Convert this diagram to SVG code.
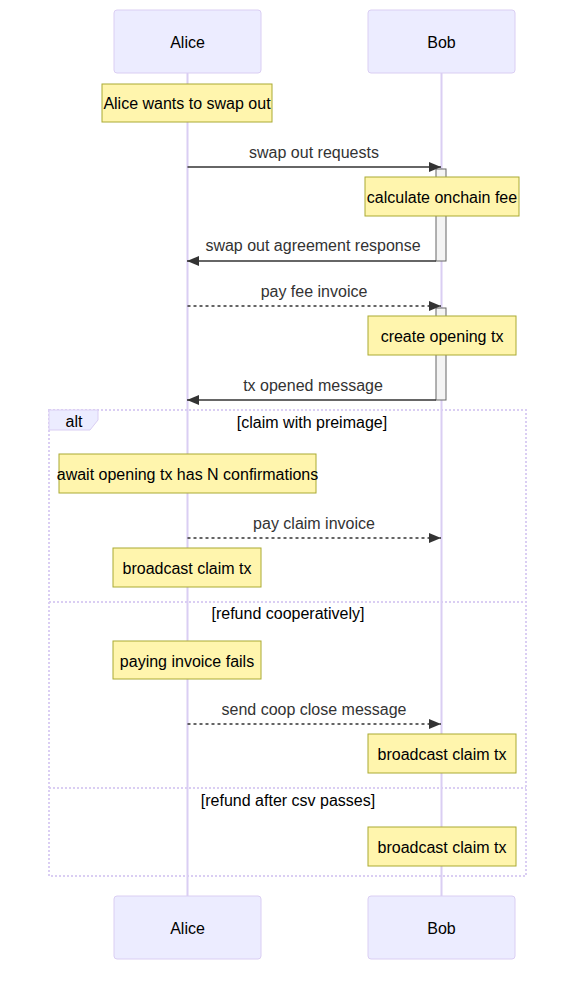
<svg xmlns="http://www.w3.org/2000/svg" width="583" height="984" viewBox="0 0 583 984">
<style>
.actor{fill:#ECECFF;stroke:#DACEF3;stroke-width:1}
.actorText{font-family:"Liberation Sans",Arial,sans-serif;font-size:16px;fill:#000;text-anchor:middle;dominant-baseline:central}
.life{stroke:#DACEF3;stroke-width:2}
.note{fill:#FFF5AD;stroke:#AAAA33;stroke-width:1}
.noteText{font-family:"Liberation Sans",Arial,sans-serif;font-size:16px;fill:#000;text-anchor:middle;dominant-baseline:central}
.msg{stroke:#333;stroke-width:1.5;fill:none}
.dotted{stroke-dasharray:3,3}
.msgText{font-family:"Liberation Sans",Arial,sans-serif;font-size:16px;fill:#333;text-anchor:middle;dominant-baseline:central}
.act{fill:#F4F4F4;stroke:#666;stroke-width:1}
.loop{fill:none;stroke:#DACEF3;stroke-width:2;stroke-dasharray:2,2}
.labelBox{fill:#ECECFF;stroke:#DACEF3;stroke-width:1}
.loopText{font-family:"Liberation Sans",Arial,sans-serif;font-size:16px;fill:#000;text-anchor:middle;dominant-baseline:central}
</style>
<defs>
<marker id="arrow" markerUnits="userSpaceOnUse" viewBox="0 0 12 10" markerWidth="12" markerHeight="10" refX="12" refY="5" orient="auto">
<path d="M0 0 L12 5 L0 10 z" fill="#333"/>
</marker>
</defs>
<rect width="583" height="984" fill="#fff"/>

<g id="lifelines">
<line class="life" x1="187.5" y1="73" x2="187.5" y2="896"/>
<line class="life" x1="441.5" y1="73" x2="441.5" y2="896"/>
</g>

<g id="alice-top"><rect class="actor" x="114" y="10" width="147" height="63" rx="3"/><text class="actorText" x="187.5" y="42">Alice</text></g>
<g id="bob-top"><rect class="actor" x="368" y="10" width="147" height="63" rx="3"/><text class="actorText" x="441.5" y="42">Bob</text></g>
<g id="alice-bottom"><rect class="actor" x="114" y="896" width="147" height="63" rx="3"/><text class="actorText" x="187.5" y="928">Alice</text></g>
<g id="bob-bottom"><rect class="actor" x="368" y="896" width="147" height="63" rx="3"/><text class="actorText" x="441.5" y="928">Bob</text></g>

<g id="alt-frame">
<rect class="loop" x="49" y="410" width="477" height="466"/>
<line class="loop" x1="49" y1="602" x2="526" y2="602"/>
<line class="loop" x1="49" y1="788" x2="526" y2="788"/>
<polygon class="labelBox" points="49,410 98,410 98,420 90,430 49,430"/>
<text class="loopText" x="74" y="421">alt</text>
<text class="loopText" x="312" y="422">[claim with preimage]</text>
<text class="loopText" x="288" y="613">[refund cooperatively]</text>
<text class="loopText" x="288" y="800">[refund after csv passes]</text>
</g>

<g id="activations">
<rect class="act" x="436" y="169" width="10" height="92"/>
<rect class="act" x="436" y="308" width="10" height="92"/>
</g>

<g id="note-alice-wants"><rect class="note" x="102" y="84" width="170" height="38"/><text class="noteText" x="187" y="103">Alice wants to swap out</text></g>
<g id="note-calc-fee"><rect class="note" x="365" y="177" width="154" height="39"/><text class="noteText" x="442" y="197">calculate onchain fee</text></g>
<g id="note-create-opening"><rect class="note" x="368" y="316" width="148" height="39"/><text class="noteText" x="442" y="336">create opening tx</text></g>
<g id="note-await"><rect class="note" x="59" y="454" width="257" height="39"/><text class="noteText" x="187.5" y="474">await opening tx has N confirmations</text></g>
<g id="note-broadcast-1"><rect class="note" x="113" y="548" width="148" height="39"/><text class="noteText" x="187" y="568">broadcast claim tx</text></g>
<g id="note-paying-fails"><rect class="note" x="113" y="641" width="148" height="38"/><text class="noteText" x="187" y="661">paying invoice fails</text></g>
<g id="note-broadcast-2"><rect class="note" x="368" y="734" width="148" height="39"/><text class="noteText" x="442" y="754">broadcast claim tx</text></g>
<g id="note-broadcast-3"><rect class="note" x="368" y="827" width="148" height="39"/><text class="noteText" x="442" y="847">broadcast claim tx</text></g>

<g id="connectors">
<text class="msgText" x="314" y="152">swap out requests</text>
<line class="msg" x1="187.5" y1="167" x2="441" y2="167" marker-end="url(#arrow)"/>
<text class="msgText" x="313" y="245">swap out agreement response</text>
<line class="msg" x1="436" y1="261" x2="187" y2="261" marker-end="url(#arrow)"/>
<text class="msgText" x="314" y="291">pay fee invoice</text>
<line class="msg dotted" x1="187.5" y1="306" x2="441" y2="306" marker-end="url(#arrow)"/>
<text class="msgText" x="313" y="385">tx opened message</text>
<line class="msg" x1="436" y1="400" x2="187" y2="400" marker-end="url(#arrow)"/>
<text class="msgText" x="314" y="523">pay claim invoice</text>
<line class="msg dotted" x1="187.5" y1="538" x2="441" y2="538" marker-end="url(#arrow)"/>
<text class="msgText" x="314" y="709">send coop close message</text>
<line class="msg dotted" x1="187.5" y1="724" x2="441" y2="724" marker-end="url(#arrow)"/>
</g>
</svg>
